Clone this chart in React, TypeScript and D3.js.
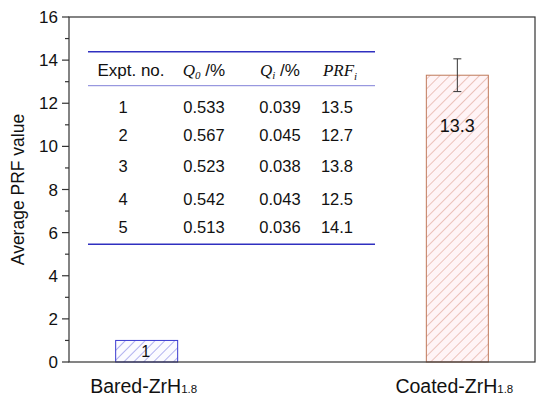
import React from "react";
import * as d3 from "d3";

const categories = ["Bared-ZrH", "Coated-ZrH"];
const subscripts = ["1.8", "1.8"];
const values = [1, 13.3];
const valueLabels = ["1", "13.3"];
const errors = [0, 0.76];
const yTicks = [0, 2, 4, 6, 8, 10, 12, 14, 16];
const yMinorTicks = [1, 3, 5, 7, 9, 11, 13, 15];

const exptNo = ["1", "2", "3", "4", "5"];
const q0 = ["0.533", "0.567", "0.523", "0.542", "0.513"];
const qi = ["0.039", "0.045", "0.038", "0.043", "0.036"];
const prfi = ["13.5", "12.7", "13.8", "12.5", "14.1"];

const W = 550, H = 402;
const M = { left: 69, right: 535, top: 17, bottom: 362 };
const rowY = [112.7, 140.7, 171.7, 205, 233.3];
const colX = [123, 204, 280, 337];

export default function App() {
  const y = d3.scaleLinear().domain([0, 16]).range([M.bottom, M.top]);
  const x = d3.scalePoint<string>().domain(categories).range([M.left, M.right]).padding(0.25);
  const bw = 62;
  const strokes = ["#3a3ad0", "#c07a5a"];
  const fills = ["url(#hatchBlue)", "url(#hatchRed)"];
  const sans = "'Liberation Sans', Arial, sans-serif";
  const serif = "'Liberation Serif', 'Times New Roman', serif";

  return (
    <svg width={W} height={H} style={{ display: "block", position: "absolute", left: 0, top: 0, background: "#fff" }}>
      <defs>
        <pattern id="hatchBlue" patternUnits="userSpaceOnUse" width="7" height="7" patternTransform="rotate(45)">
          <rect width="7" height="7" fill="#fbfbff" />
          <line x1="0" y1="0" x2="0" y2="7" stroke="#6a6ae0" strokeWidth="1" />
        </pattern>
        <pattern id="hatchRed" patternUnits="userSpaceOnUse" width="7" height="7" patternTransform="rotate(45)">
          <rect width="7" height="7" fill="#fff4f6" />
          <line x1="0" y1="0" x2="0" y2="7" stroke="#d89080" strokeWidth="1" />
        </pattern>
      </defs>

      {/* bars */}
      {categories.map((c, i) => {
        const cx = x(c)!;
        return (
          <g key={c}>
            <rect x={cx - bw / 2} y={y(values[i])} width={bw} height={M.bottom - y(values[i])}
              fill={fills[i]} stroke={strokes[i]} strokeWidth={1} />
            {errors[i] > 0 && (
              <g stroke="#333" strokeWidth={1}>
                <line x1={cx} x2={cx} y1={y(values[i] + errors[i])} y2={y(values[i] - errors[i])} />
                <line x1={cx - 4} x2={cx + 4} y1={y(values[i] + errors[i])} y2={y(values[i] + errors[i])} />
                <line x1={cx - 4} x2={cx + 4} y1={y(values[i] - errors[i])} y2={y(values[i] - errors[i])} />
              </g>
            )}
          </g>
        );
      })}
      <text x={x(categories[0])! - 1} y={357} textAnchor="middle" fontFamily={sans} fontSize={16} fill="#111">{valueLabels[0]}</text>
      <text x={x(categories[1])!} y={132} textAnchor="middle" fontFamily={sans} fontSize={18} fill="#111">{valueLabels[1]}</text>

      {/* frame */}
      <rect x={M.left} y={M.top} width={M.right - M.left} height={M.bottom - M.top} fill="none" stroke="#333" strokeWidth={1.2} />

      {/* y ticks */}
      {yTicks.map(t => (
        <g key={t}>
          <line x1={M.left - 7} x2={M.left} y1={y(t)} y2={y(t)} stroke="#333" strokeWidth={1.2} />
          <text x={M.left - 11} y={y(t) + 6} textAnchor="end" fontFamily={sans} fontSize={17} fill="#111">{t}</text>
        </g>
      ))}
      {yMinorTicks.map(t => (
        <line key={t} x1={M.left - 4} x2={M.left} y1={y(t)} y2={y(t)} stroke="#333" strokeWidth={1.2} />
      ))}
      <text transform={`translate(24,${(M.top + M.bottom) / 2}) rotate(-90)`} textAnchor="middle" fontFamily={sans} fontSize={17.5} fill="#111">Average PRF value</text>

      {/* x labels */}
      {categories.map((c, i) => (
        <text key={c} x={x(c)! - 3} y={393} textAnchor="middle" fontFamily={sans} fontSize={19.5} fill="#111">
          {c}<tspan fontSize={11.5}>{subscripts[i]}</tspan>
        </text>
      ))}

      {/* table */}
      <line x1={88} x2={375} y1={51.7} y2={51.7} stroke="#3030c0" strokeWidth={1.5} />
      <line x1={88} x2={375} y1={85.7} y2={85.7} stroke="#8080d8" strokeWidth={1} />
      <line x1={88} x2={375} y1={244.3} y2={244.3} stroke="#3030c0" strokeWidth={1.5} />
      <text x={131} y={76} textAnchor="middle" fontFamily={sans} fontSize={17} fill="#111">Expt. no.</text>
      <text x={204} y={76} textAnchor="middle" fontSize={17} fill="#111">
        <tspan fontFamily={serif} fontStyle="italic">Q</tspan><tspan fontFamily={serif} fontStyle="italic" fontSize={11} dy={3}>0</tspan><tspan fontFamily={sans} dy={-3}> /%</tspan>
      </text>
      <text x={280} y={76} textAnchor="middle" fontSize={17} fill="#111">
        <tspan fontFamily={serif} fontStyle="italic">Q</tspan><tspan fontFamily={serif} fontStyle="italic" fontSize={11} dy={3}>i</tspan><tspan fontFamily={sans} dy={-3}> /%</tspan>
      </text>
      <text x={340} y={76} textAnchor="middle" fontSize={17} fill="#111">
        <tspan fontFamily={serif} fontStyle="italic">PRF</tspan><tspan fontFamily={serif} fontStyle="italic" fontSize={11} dy={4}>i</tspan>
      </text>
      {exptNo.map((e, i) => (
        <g key={e} fontFamily={sans} fontSize={16.5} fill="#111" textAnchor="middle">
          <text x={colX[0]} y={rowY[i]}>{e}</text>
          <text x={colX[1]} y={rowY[i]}>{q0[i]}</text>
          <text x={colX[2]} y={rowY[i]}>{qi[i]}</text>
          <text x={colX[3]} y={rowY[i]}>{prfi[i]}</text>
        </g>
      ))}
    </svg>
  );
}
